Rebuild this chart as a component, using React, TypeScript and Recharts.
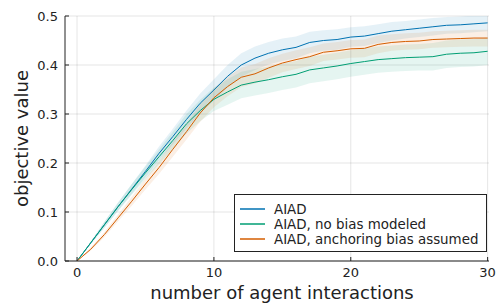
import React from 'react';
import { ComposedChart, Line, Area, XAxis, YAxis, CartesianGrid, Label } from 'recharts';

const steps = [0, 1, 2, 3, 4, 5, 6, 7, 8, 9, 10, 11, 12, 13, 14, 15, 16, 17, 18, 19, 20, 21, 22, 23, 24, 25, 26, 27, 28, 29, 30];

const aiad = [0, 0.037, 0.074, 0.111, 0.147, 0.183, 0.22, 0.254, 0.289, 0.322, 0.349, 0.377, 0.4, 0.414, 0.424, 0.431, 0.436, 0.446, 0.45, 0.452, 0.457, 0.459, 0.464, 0.469, 0.472, 0.475, 0.478, 0.481, 0.482, 0.484, 0.486];
const aiadErr = [0, 0.003, 0.006, 0.008, 0.01, 0.012, 0.014, 0.016, 0.018, 0.02, 0.022, 0.023, 0.024, 0.024, 0.023, 0.023, 0.022, 0.022, 0.021, 0.021, 0.02, 0.02, 0.019, 0.019, 0.018, 0.018, 0.018, 0.017, 0.017, 0.017, 0.017];

const noBias = [0, 0.037, 0.074, 0.111, 0.146, 0.18, 0.213, 0.246, 0.28, 0.307, 0.33, 0.345, 0.359, 0.365, 0.37, 0.376, 0.381, 0.39, 0.394, 0.398, 0.403, 0.407, 0.411, 0.413, 0.415, 0.416, 0.417, 0.422, 0.424, 0.425, 0.428];
const noBiasErr = [0, 0.003, 0.006, 0.009, 0.011, 0.013, 0.015, 0.018, 0.02, 0.022, 0.024, 0.026, 0.027, 0.027, 0.027, 0.027, 0.027, 0.027, 0.027, 0.027, 0.027, 0.027, 0.027, 0.027, 0.027, 0.027, 0.028, 0.028, 0.028, 0.028, 0.028];

const anchoring = [0, 0.024, 0.054, 0.088, 0.122, 0.157, 0.191, 0.228, 0.264, 0.302, 0.333, 0.356, 0.375, 0.382, 0.394, 0.404, 0.411, 0.417, 0.426, 0.429, 0.433, 0.434, 0.442, 0.446, 0.448, 0.449, 0.452, 0.453, 0.454, 0.455, 0.455];
const anchoringErr = [0, 0.003, 0.005, 0.007, 0.009, 0.011, 0.013, 0.015, 0.016, 0.018, 0.019, 0.02, 0.02, 0.02, 0.02, 0.019, 0.019, 0.019, 0.018, 0.018, 0.018, 0.018, 0.018, 0.017, 0.017, 0.017, 0.017, 0.017, 0.017, 0.017, 0.017];

const xTicks = [0, 10, 20, 30];
const yTicks = [0, 0.1, 0.2, 0.3, 0.4, 0.5];

const seriesNames = ['AIAD', 'AIAD, no bias modeled', 'AIAD, anchoring bias assumed'];
const colors = ['#0072B2', '#009E73', '#D55E00'];

const data = steps.map((x, i) => ({
  x,
  aiad: aiad[i],
  aiadBand: [aiad[i] - aiadErr[i], aiad[i] + aiadErr[i]],
  noBias: noBias[i],
  noBiasBand: [noBias[i] - noBiasErr[i], noBias[i] + noBiasErr[i]],
  anchoring: anchoring[i],
  anchoringBand: [anchoring[i] - anchoringErr[i], anchoring[i] + anchoringErr[i]],
}));

const FONT = '"DejaVu Sans", sans-serif';
const AXIS = '#222';
const Y_MARGIN = 7;
const X_MARGIN = 0;

const YTick = (props: any) => {
  const { x, y, payload } = props;
  const ax = x + Y_MARGIN;
  return (
    <g>
      <line x1={ax} y1={y} x2={ax + 4} y2={y} stroke={AXIS} strokeWidth={1} />
      <text x={x} y={y} dy={4.6} textAnchor="end" fontSize={13} fontFamily={FONT} fill="#222">
        {payload.value.toFixed(1)}
      </text>
    </g>
  );
};

const XTick = (props: any) => {
  const { x, y, payload } = props;
  const ay = y - X_MARGIN;
  return (
    <g>
      <line x1={x} y1={ay} x2={x} y2={ay - 4} stroke={AXIS} strokeWidth={1} />
      <text x={x} y={ay} dy={16} textAnchor="middle" fontSize={13} fontFamily={FONT} fill="#222">
        {payload.value}
      </text>
    </g>
  );
};

export default function App() {
  return (
    <div style={{ position: 'absolute', left: 0, top: 0, width: 503, height: 306, background: '#fff', fontFamily: FONT }}>
      <ComposedChart width={503} height={306} data={data} margin={{ top: 16, right: 14, bottom: 0, left: 0 }}>
        <CartesianGrid stroke="#000" strokeOpacity={0.1} strokeWidth={1} horizontalValues={yTicks} verticalValues={xTicks} />
        <XAxis
          dataKey="x"
          type="number"
          domain={[-0.88, 30.1]}
          ticks={xTicks}
          allowDataOverflow
          height={45}
          tickSize={0}
          tickMargin={X_MARGIN}
          tick={<XTick />}
          stroke={AXIS}
        >
          <Label value="number of agent interactions" position="center" dx={5} dy={9} fontSize={18} fontFamily={FONT} fill="#222" />
        </XAxis>
        <YAxis
          type="number"
          domain={[0, 0.5]}
          ticks={yTicks}
          allowDataOverflow
          width={65}
          tickSize={0}
          tickMargin={Y_MARGIN}
          tick={<YTick />}
          stroke={AXIS}
        >
          <Label value="objective value" angle={-90} position="center" dx={-11} fontSize={18} fontFamily={FONT} fill="#222" />
        </YAxis>
        <Area dataKey="aiadBand" stroke="none" fill={colors[0]} fillOpacity={0.1} isAnimationActive={false} activeDot={false} />
        <Line dataKey="aiad" stroke={colors[0]} strokeWidth={1} dot={false} type="linear" isAnimationActive={false} />
        <Area dataKey="noBiasBand" stroke="none" fill={colors[1]} fillOpacity={0.1} isAnimationActive={false} activeDot={false} />
        <Line dataKey="noBias" stroke={colors[1]} strokeWidth={1} dot={false} type="linear" isAnimationActive={false} />
        <Area dataKey="anchoringBand" stroke="none" fill={colors[2]} fillOpacity={0.1} isAnimationActive={false} activeDot={false} />
        <Line dataKey="anchoring" stroke={colors[2]} strokeWidth={1} dot={false} type="linear" isAnimationActive={false} />
      </ComposedChart>
      <div style={{ position: 'absolute', left: 234, top: 194, width: 253, height: 58, boxSizing: 'border-box', border: '1px solid #222', background: '#fff' }}>
        {seriesNames.map((name, i) => (
          <div key={name} style={{ position: 'absolute', left: 5, top: 6 + i * 15, height: 16, display: 'flex', alignItems: 'center' }}>
            <svg width={26} height={16}>
              <line x1={0} y1={8} x2={25} y2={8} stroke={colors[i]} strokeWidth={1.5} />
            </svg>
            <span style={{ marginLeft: 8, fontSize: 13.4, color: '#222', whiteSpace: 'nowrap' }}>{name}</span>
          </div>
        ))}
      </div>
    </div>
  );
}
